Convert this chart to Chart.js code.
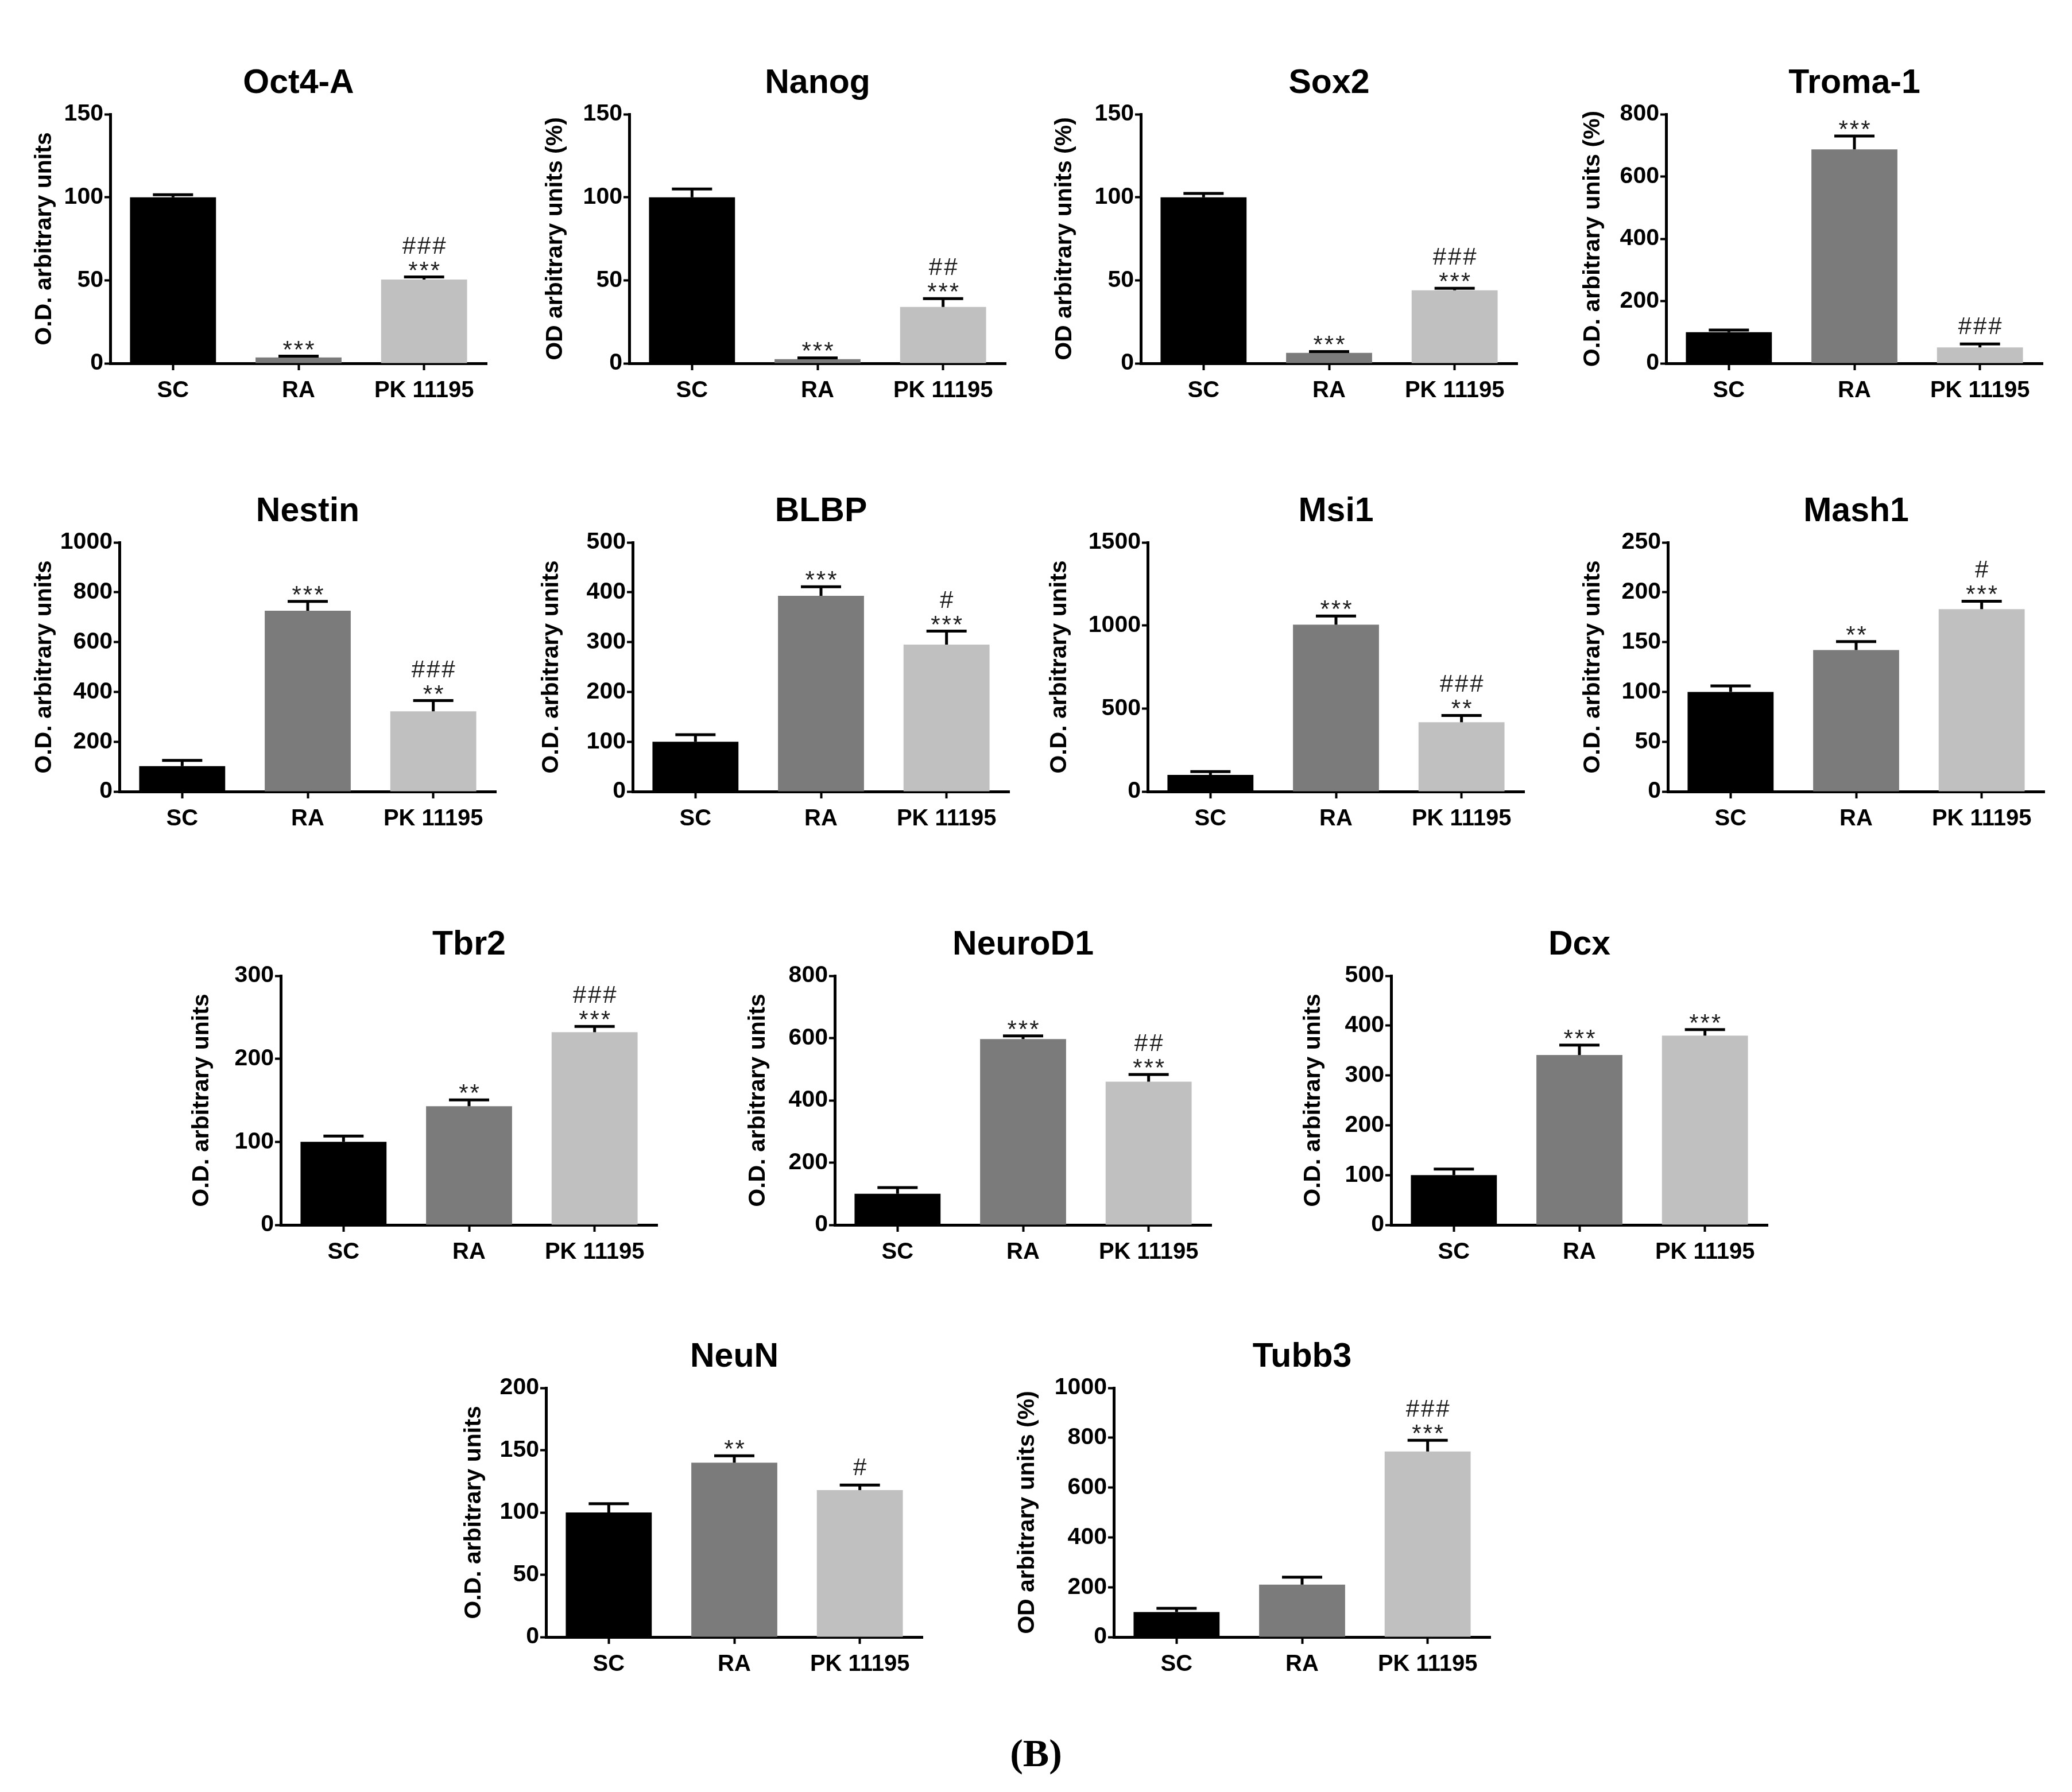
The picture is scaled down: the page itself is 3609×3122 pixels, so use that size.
<!DOCTYPE html>
<html>
<head>
<meta charset="utf-8">
<title>Marker expression (B)</title>
<script src="https://cdn.jsdelivr.net/npm/chart.js@4.4.1/dist/chart.umd.min.js"></script>
<style>
  html, body { margin: 0; padding: 0; background: #fff; }
  #page { position: relative; width: 3609px; height: 3122px; overflow: hidden; background: #fff; }
  #page canvas { position: absolute; }
  #panelLabel {
    position: absolute; left: 0; width: 3609px; top: 3015px; line-height: 70px;
    text-align: center; font: bold 68px "Liberation Serif", "Times New Roman", serif; color: #000;
  }
</style>
</head>
<body>
<div id="page">
  <div id="panelLabel">(B)</div>
</div>
<script>
// groups on the x axis
const groups = ['SC', 'RA', 'PK 11195'];

// one panel per marker
const markers = ['Oct4-A', 'Nanog', 'Sox2', 'Troma-1', 'Nestin', 'BLBP', 'Msi1', 'Mash1',
  'Tbr2', 'NeuroD1', 'Dcx', 'NeuN', 'Tubb3'];
const yTitles = ['O.D. arbitrary units', 'OD arbitrary units (%)', 'OD arbitrary units (%)',
  'O.D. arbitrary units (%)', 'O.D. arbitrary units', 'O.D. arbitrary units', 'O.D. arbitrary units',
  'O.D. arbitrary units', 'O.D. arbitrary units', 'O.D. arbitrary units', 'O.D. arbitrary units',
  'O.D. arbitrary units', 'OD arbitrary units (%)'];
const yMax  = [150, 150, 150, 800, 1000, 500, 1500, 250, 300, 800, 500, 200, 1000];
const yStep = [50, 50, 50, 200, 200, 100, 500, 50, 100, 200, 100, 50, 200];

// means and errors
const scMean = [100, 100, 100, 100, 102, 100, 100, 100, 100, 100, 100, 100, 100];
const scErr  = [1.5, 5, 2.3, 7, 23, 14, 20, 6, 7, 20, 12, 7, 15];
const raMean = [3.5, 2.5, 6.3, 687, 726, 393, 1005, 142, 143, 597, 341, 140, 210];
const raErr  = [0.8, 0.8, 0.8, 43, 37, 18, 52, 8.5, 7.5, 10, 20, 5.5, 30];
const pkMean = [50.5, 34, 44, 51, 322, 295, 417, 183, 232, 460, 380, 118, 745];
const pkErr  = [1.5, 5, 1.2, 11, 43, 27, 41, 8, 7, 23, 12, 4, 45];

// significance marks
const raStars = ['***', '***', '***', '***', '***', '***', '***', '**', '**', '***', '***', '**', ''];
const pkStars = ['***', '***', '***', '', '**', '***', '**', '***', '***', '***', '***', '', '***'];
const pkHash  = ['###', '##', '###', '###', '###', '#', '###', '#', '###', '##', '', '#', '###'];

// page layout (plot area left edge / top edge in page pixels)
const panelLeft = [192, 1096, 1987, 2902, 208, 1102, 1999, 2905, 489, 1454, 2423, 951, 1940];
const panelTop  = [199, 199, 199, 199, 945, 945, 945, 945, 1700, 1700, 1700, 2418, 2418];
const yTitleGap = [114, 128, 132, 127, 130, 141, 153, 130, 137, 133, 135, 125, 150];

const FONT = '"Liberation Sans", Arial, Helvetica, sans-serif';
const barColors = ['#000000', '#7b7b7b', '#c0c0c0'];
const PLOT_W = 656, PLOT_H = 434;
const AXIS_W = 190, TOP_PAD = 110, RIGHT_PAD = 40, XAXIS_H = 90;

// error bars, significance marks and panel title
const panelDecor = {
  id: 'panelDecor',
  afterDatasetsDraw(chart, args, opts) {
    const ctx = chart.ctx;
    const y = chart.scales.y;
    const bars = chart.getDatasetMeta(0).data;
    ctx.save();
    ctx.strokeStyle = '#000';
    ctx.lineWidth = 5;
    bars.forEach(function (bar, i) {
      const top = y.getPixelForValue(opts.means[i]);
      const capY = y.getPixelForValue(opts.means[i] + opts.errs[i]);
      ctx.beginPath();
      ctx.moveTo(bar.x, top);
      ctx.lineTo(bar.x, capY);
      ctx.moveTo(bar.x - 35, capY);
      ctx.lineTo(bar.x + 35, capY);
      ctx.stroke();

      ctx.fillStyle = '#1c1c1c';
      ctx.font = '42px ' + FONT;
      ctx.letterSpacing = '3px';
      ctx.textAlign = 'center';
      ctx.textBaseline = 'alphabetic';
      const stars = opts.stars[i];
      const hash = opts.hashes[i];
      if (stars) {
        ctx.fillText(stars, bar.x + 1.5, capY + 2);
      }
      if (hash) {
        ctx.fillText(hash, bar.x + 1.5, stars ? capY - 41 : capY - 17);
      }
    });
    ctx.restore();
  },
  afterDraw(chart, args, opts) {
    const ctx = chart.ctx;
    const area = chart.chartArea;
    ctx.save();
    ctx.fillStyle = '#000';
    ctx.font = 'bold 59px ' + FONT;
    ctx.textAlign = 'center';
    ctx.textBaseline = 'alphabetic';
    ctx.fillText(opts.title, (area.left + area.right) / 2, area.top - 58 + 21);
    ctx.restore();
  }
};

const page = document.getElementById('page');

markers.forEach(function (name, i) {
  const w = AXIS_W + PLOT_W + RIGHT_PAD;
  const h = TOP_PAD + PLOT_H + XAXIS_H;
  const canvas = document.createElement('canvas');
  canvas.width = w;
  canvas.height = h;
  canvas.style.width = w + 'px';
  canvas.style.height = h + 'px';
  canvas.style.left = (panelLeft[i] - AXIS_W) + 'px';
  canvas.style.top = (panelTop[i] - TOP_PAD) + 'px';
  page.appendChild(canvas);

  const means = [scMean[i], raMean[i], pkMean[i]];
  const errs = [scErr[i], raErr[i], pkErr[i]];

  new Chart(canvas, {
    type: 'bar',
    data: {
      labels: groups,
      datasets: [{
        data: means,
        backgroundColor: barColors,
        borderWidth: 0,
        barPercentage: 0.685,
        categoryPercentage: 1
      }]
    },
    options: {
      responsive: false,
      animation: false,
      devicePixelRatio: 1,
      layout: { padding: { top: TOP_PAD, right: RIGHT_PAD, left: 0, bottom: 0 } },
      plugins: {
        legend: { display: false },
        tooltip: { enabled: false },
        title: { display: false },
        panelDecor: {
          title: name,
          means: means,
          errs: errs,
          stars: [null, raStars[i], pkStars[i]],
          hashes: [null, null, pkHash[i]]
        }
      },
      scales: {
        x: {
          z: 1,
          afterFit: function (s) { s.height = XAXIS_H; },
          border: { display: true, color: '#000', width: 5 },
          grid: {
            display: true, offset: false, drawOnChartArea: false,
            tickLength: 12, tickWidth: 4, color: '#000', tickColor: '#000'
          },
          ticks: {
            color: '#000', padding: 12, maxRotation: 0, autoSkip: false,
            font: { family: FONT, size: 40, weight: 'bold' }
          }
        },
        y: {
          z: 1,
          min: 0,
          max: yMax[i],
          afterFit: function (s) { s.width = AXIS_W; },
          border: { display: true, color: '#000', width: 5 },
          grid: {
            display: true, drawOnChartArea: false,
            tickLength: 10, tickWidth: 4, color: '#000', tickColor: '#000'
          },
          ticks: {
            stepSize: yStep[i], color: '#000', padding: 2,
            callback: function (v) { return String(v); },
            font: { family: FONT, size: 41, weight: 'bold' }
          },
          title: {
            display: true,
            text: yTitles[i],
            color: '#000',
            font: { family: FONT, size: 41, weight: 'bold', lineHeight: 1 },
            padding: { top: AXIS_W - yTitleGap[i] - 20.5, bottom: 0 }
          }
        }
      }
    },
    plugins: [panelDecor]
  });
});
</script>
</body>
</html>
